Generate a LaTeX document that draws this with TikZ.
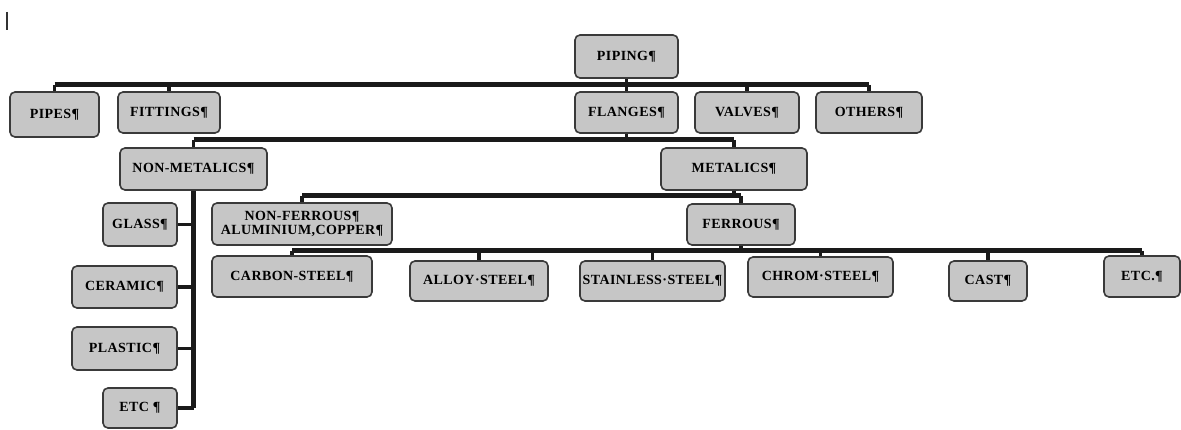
\documentclass[tikz,border=0pt]{standalone}
\usepackage{fontspec}
\setmainfont{Liberation Serif}
\newfontfamily\boxfont[LetterSpace=3]{Liberation Serif}
\definecolor{boxfill}{HTML}{C6C6C6}
\definecolor{boxline}{HTML}{3A3A3A}
\definecolor{linkcol}{HTML}{1A1A1A}
\begin{document}
\begin{tikzpicture}[x=1pt,y=-1pt,
  box/.style={draw=boxline, line width=1.6pt, fill=boxfill, rounded corners=5pt,
    inner sep=0pt, align=center,
    font=\boxfont\bfseries\fontsize{14}{14.5}\selectfont},
  bus/.style={draw=linkcol, line width=5pt},
  drop/.style={draw=linkcol, line width=3.5pt}]
\useasboundingbox (0,0) rectangle (1181,430);
\fill[white] (0,0) rectangle (1181,430);
% cursor mark
\draw[line width=1.2pt, black!80] (7,12) -- (7,30);
% coordinates for bus levels
\coordinate (b1) at (0,85);
\coordinate (b2) at (0,140);
\coordinate (b3) at (0,196);
\coordinate (b4) at (0,251);
% nodes
\node[box, minimum width=103pt, minimum height=43pt] (piping) at (626.5,56.5) {PIPING¶};
\node[box, minimum width=89pt, minimum height=45pt] (pipes) at (54.5,114.5) {PIPES¶};
\node[box, minimum width=102pt, minimum height=41pt] (fittings) at (169,112.5) {FITTINGS¶};
\node[box, minimum width=103pt, minimum height=41pt] (flanges) at (626.5,112.5) {FLANGES¶};
\node[box, minimum width=104pt, minimum height=41pt] (valves) at (747,112.5) {VALVES¶};
\node[box, minimum width=106pt, minimum height=41pt] (others) at (869,112.5) {OTHERS¶};
\node[box, minimum width=147pt, minimum height=42pt] (nonmet) at (193.5,169) {NON-METALICS¶};
\node[box, minimum width=146pt, minimum height=42pt] (met) at (734,169) {METALICS¶};
\node[box, minimum width=74pt, minimum height=43pt] (glass) at (140,224.5) {GLASS¶};
\node[box, minimum width=105pt, minimum height=42pt] (ceramic) at (124.5,287) {CERAMIC¶};
\node[box, minimum width=105pt, minimum height=43pt] (plastic) at (124.5,348.5) {PLASTIC¶};
\node[box, minimum width=74pt, minimum height=40pt] (etcL) at (140,408) {ETC ¶};
\node[box, minimum width=180pt, minimum height=42pt] (nonfer) at (302,224) {NON-FERROUS¶\\ALUMINIUM,COPPER¶};
\node[box, minimum width=108pt, minimum height=41pt] (ferrous) at (741,224.5) {FERROUS¶};
\node[box, minimum width=160pt, minimum height=41pt] (carbon) at (292,276.5) {CARBON-STEEL¶};
\node[box, minimum width=138pt, minimum height=40pt] (alloy) at (479,281) {ALLOY·STEEL¶};
\node[box, minimum width=145pt, minimum height=40pt] (stainless) at (652.5,281) {STAINLESS·STEEL¶};
\node[box, minimum width=145pt, minimum height=40pt] (chrom) at (820.5,277) {CHROM·STEEL¶};
\node[box, minimum width=78pt, minimum height=40pt] (cast) at (988,281) {CAST¶};
\node[box, minimum width=76pt, minimum height=41pt] (etcR) at (1142,276.5) {ETC.¶};
% level 1
\draw[bus] (pipes.north |- b1) -- (others.north |- b1);
\draw[drop] (piping.south) -- (piping.south |- b1);
\foreach \c in {pipes,fittings,flanges,valves,others}
  \draw[drop] (\c.north |- b1) -- (\c.north);
% level 2
\draw[bus] (nonmet.north |- b2) -- (met.north |- b2);
\draw[drop] (flanges.south) -- (flanges.south |- b2);
\draw[drop] (nonmet.north |- b2) -- (nonmet.north);
\draw[drop] (met.north |- b2) -- (met.north);
% non-metalics tree
\draw[bus] (nonmet.south) -- (etcL.east -| nonmet.south);
\foreach \c in {glass,ceramic,plastic,etcL}
  \draw[drop] (\c.east) -- (\c.east -| nonmet.south);
% level 3
\draw[bus] (nonfer.north |- b3) -- (ferrous.north |- b3);
\draw[drop] (met.south) -- (met.south |- b3);
\draw[drop] (nonfer.north |- b3) -- (nonfer.north);
\draw[drop] (ferrous.north |- b3) -- (ferrous.north);
% level 4
\draw[bus] (carbon.north |- b4) -- (etcR.north |- b4);
\draw[drop] (ferrous.south) -- (ferrous.south |- b4);
\foreach \c in {carbon,alloy,stainless,chrom,cast,etcR}
  \draw[drop] (\c.north |- b4) -- (\c.north);
\end{tikzpicture}
\end{document}
